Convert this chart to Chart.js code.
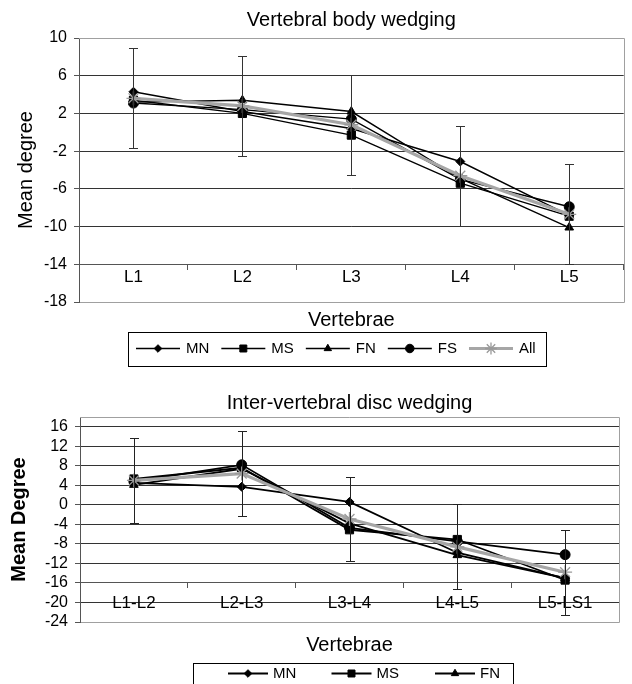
<!DOCTYPE html>
<html><head><meta charset="utf-8">
<script src="https://cdn.jsdelivr.net/npm/chart.js@4.4.1/dist/chart.umd.min.js"></script>
<style>
html,body{margin:0;padding:0;width:632px;height:684px;overflow:hidden;background:#fff;}
#w1{position:absolute;left:0;top:0;width:632px;height:384px;}
#w2{position:absolute;left:0;top:385px;width:632px;height:360px;}
</style></head><body>
<div id="w1"><canvas id="c1"></canvas></div>
<div id="w2"><canvas id="c2"></canvas></div>
<script>
// ---------- data: vertebral body wedging ----------
const bodyCategories = ['L1', 'L2', 'L3', 'L4', 'L5'];
const bodyMN  = [4.3, 2.2, 0.4, -3.1, -8.8];
const bodyMS  = [3.4, 2.0, -0.3, -5.4, -8.9];
const bodyFN  = [3.2, 3.4, 2.2, -4.9, -10.1];
const bodyFS  = [3.1, 2.4, 1.4, -5.0, -7.9];
const bodyAll = [3.6, 2.8, 0.8, -4.6, -8.7];
const bodyAllSD = [5.3, 5.3, 5.3, 5.3, 5.3];
const bodyYTicks = [10, 6, 2, -2, -6, -10, -14, -18];

// ---------- data: inter-vertebral disc wedging ----------
const discCategories = ['L1-L2', 'L2-L3', 'L3-L4', 'L4-L5', 'L5-LS1'];
const discMN  = [4.5, 3.7, 0.6, -9.8, -15.0];
const discMS  = [5.3, 7.6, -5.1, -7.1, -15.4];
const discFN  = [4.1, 7.4, -3.8, -10.3, -15.0];
const discFS  = [4.8, 8.2, -4.7, -7.5, -10.2];
const discAll = [5.0, 6.4, -2.9, -8.6, -13.8];
const discAllSD = [8.7, 8.7, 8.7, 8.7, 8.7];
const discYTicks = [16, 12, 8, 4, 0, -4, -8, -12, -16, -20, -24];

const seriesNames = ['MN', 'MS', 'FN', 'FS', 'All'];

const FAMILY = "'Liberation Sans', Arial, Helvetica, sans-serif";
Chart.defaults.font.family = FAMILY;
Chart.defaults.color = '#000';

const DARK = '#333';
const FRAME = '#a0a0a0';
const GRAYLINE = '#a6a6a6';

function makeDatasets(arrs, lw) {
  const styles = [
    {pointStyle: 'rectRot', pointRadius: 4.5},
    {pointStyle: 'rect', pointRadius: 5.8},
    {pointStyle: 'triangle', pointRadius: 5},
    {pointStyle: 'circle', pointRadius: 5},
  ];
  const out = [];
  for (let i = 0; i < 4; i++) {
    out.push(Object.assign({
      label: seriesNames[i], data: arrs[i],
      borderColor: '#000', backgroundColor: '#000',
      pointBackgroundColor: '#000', pointBorderColor: '#000', pointBorderWidth: 1,
      borderWidth: lw, tension: 0, order: 5 - i
    }, styles[i]));
  }
  out.push({
    label: seriesNames[4], data: arrs[4],
    borderColor: GRAYLINE, backgroundColor: GRAYLINE,
    pointBackgroundColor: GRAYLINE, pointBorderColor: '#999', pointBorderWidth: 1.3,
    pointStyle: 'star', pointRadius: 7, borderWidth: 3.2, tension: 0, order: 0
  });
  return out;
}

const framePlugin = {
  id: 'frame',
  beforeDatasetsDraw(chart) {
    const a = chart.chartArea, ctx = chart.ctx;
    ctx.save();
    ctx.strokeStyle = FRAME; ctx.lineWidth = 1;
    ctx.beginPath();
    ctx.moveTo(Math.round(a.left), Math.round(a.top) + 0.5);
    ctx.lineTo(Math.round(a.right) + 0.5, Math.round(a.top) + 0.5);
    ctx.lineTo(Math.round(a.right) + 0.5, Math.round(a.bottom) + 0.5);
    ctx.lineTo(Math.round(a.left) + 1, Math.round(a.bottom) + 0.5);
    ctx.stroke();
    ctx.restore();
  }
};

const errorBarPlugin = {
  id: 'errorBars',
  afterDatasetsDraw(chart, args, o) {
    const meta = chart.getDatasetMeta(o.datasetIndex);
    const ds = chart.data.datasets[o.datasetIndex];
    const ys = chart.scales.y, ctx = chart.ctx;
    ctx.save();
    ctx.strokeStyle = o.color; ctx.lineWidth = 1;
    meta.data.forEach((pt, i) => {
      const v = ds.data[i], e = o.errors[i];
      const x = Math.round(pt.x) + 0.5;
      const y1 = Math.round(ys.getPixelForValue(v + e)) + 0.5;
      const y2 = Math.round(ys.getPixelForValue(v - e)) + 0.5;
      ctx.beginPath();
      ctx.moveTo(x, y1); ctx.lineTo(x, y2);
      ctx.moveTo(x - o.cap, y1); ctx.lineTo(x + o.cap, y1);
      ctx.moveTo(x - o.cap, y2); ctx.lineTo(x + o.cap, y2);
      ctx.stroke();
    });
    ctx.restore();
  }
};

const boxLegendPlugin = {
  id: 'boxLegend',
  afterDraw(chart, args, o) {
    const ctx = chart.ctx;
    ctx.save();
    ctx.strokeStyle = '#000'; ctx.lineWidth = 1;
    ctx.strokeRect(o.left + 0.5, o.top + 0.5, o.width, o.height);
    ctx.font = o.fontSize + 'px ' + FAMILY;
    ctx.textBaseline = 'middle';
    ctx.textAlign = 'left';
    let x = o.startX;
    chart.data.datasets.forEach((ds, i) => {
      let ix, iy;
      if (o.cols) {
        ix = o.startX + (i % o.cols) * o.colWidth;
        iy = o.rowY + Math.floor(i / o.cols) * o.rowHeight;
      } else { ix = x; iy = o.rowY; }
      ctx.strokeStyle = ds.borderColor;
      ctx.lineWidth = ds.borderWidth;
      ctx.beginPath(); ctx.moveTo(ix, iy + 0.5); ctx.lineTo(ix + o.lineLen, iy + 0.5); ctx.stroke();
      ctx.fillStyle = ds.pointBackgroundColor;
      ctx.strokeStyle = ds.pointBorderColor;
      ctx.lineWidth = ds.pointBorderWidth;
      const r = ds.pointRadius * o.markerScale;
      if (Chart.helpers && Chart.helpers.drawPoint) {
        Chart.helpers.drawPoint(ctx, {pointStyle: ds.pointStyle, radius: r, borderWidth: ds.pointBorderWidth, rotation: 0}, ix + o.lineLen / 2, iy + 0.5);
      }
      ctx.fillStyle = '#000';
      ctx.fillText(ds.label, ix + o.lineLen + o.textGap, iy + 1);
      x = ix + o.lineLen + o.textGap + ctx.measureText(ds.label).width + o.itemGap;
    });
    ctx.restore();
  }
};

function gridColor(maxV, minV) {
  return (c) => (c.tick && (c.tick.value === maxV || c.tick.value === minV)) ? FRAME : DARK;
}

// ---------- chart 1 ----------
new Chart(document.getElementById('c1'), {
  type: 'line',
  data: {
    labels: bodyCategories,
    datasets: makeDatasets([bodyMN, bodyMS, bodyFN, bodyFS, bodyAll], 1.4)
  },
  plugins: [framePlugin, errorBarPlugin, boxLegendPlugin],
  options: {
    responsive: true, maintainAspectRatio: false, animation: false,
    layout: {padding: {left: 0, right: 5, top: 0, bottom: 52}},
    plugins: {
      legend: {display: false},
      tooltip: {enabled: false},
      title: {display: true, fullSize: false, text: 'Vertebral body wedging', color: '#000',
        font: {size: 20, weight: 'normal'}, padding: {top: 8, bottom: 6}},
      errorBars: {datasetIndex: 4, errors: bodyAllSD, color: '#333', cap: 4.5},
      boxLegend: {left: 128, top: 332, width: 418, height: 34, startX: 136, rowY: 348,
        lineLen: 44, textGap: 6, itemGap: 12, fontSize: 15, markerScale: 0.85}
    },
    scales: {
      x: {
        type: 'category', position: {y: -14}, offset: true,
        grid: {display: true, drawOnChartArea: false, drawTicks: true, tickLength: 5, offset: true, color: '#555'},
        border: {display: true, color: '#555', width: 1},
        ticks: {font: {size: 17}, color: '#000', padding: -2.5, maxRotation: 0, autoSkip: false}
      },
      xb: {
        type: 'category', position: 'bottom', offset: true, labels: bodyCategories,
        grid: {display: false, drawTicks: false, tickLength: 0}, border: {display: false},
        ticks: {display: false},
        title: {display: true, text: 'Vertebrae', color: '#000', font: {size: 20}, padding: {top: 6, bottom: 0}}
      },
      y: {
        min: -18, max: 10,
        afterBuildTicks: (s) => { s.ticks = bodyYTicks.map(v => ({value: v})); },
        afterFit: (s) => { s.width = 79; },
        grid: {color: gridColor(10, -18), tickColor: '#555', tickLength: 5, drawTicks: true},
        border: {display: true, color: '#555', width: 1},
        ticks: {font: {size: 16}, color: '#000', padding: 7, autoSkip: false},
        title: {display: true, text: 'Mean degree', color: '#000', font: {size: 20}, padding: {top: 14, bottom: 0}}
      }
    }
  }
});

// ---------- chart 2 ----------
new Chart(document.getElementById('c2'), {
  type: 'line',
  data: {
    labels: discCategories,
    datasets: makeDatasets([discMN, discMS, discFN, discFS, discAll], 1.8)
  },
  plugins: [framePlugin, errorBarPlugin, boxLegendPlugin],
  options: {
    responsive: true, maintainAspectRatio: false, animation: false,
    layout: {padding: {left: 0, right: 13, top: 0, bottom: 88}},
    plugins: {
      legend: {display: false},
      tooltip: {enabled: false},
      title: {display: true, fullSize: false, text: 'Inter-vertebral disc wedging', color: '#000',
        font: {size: 20, weight: 'normal'}, padding: {top: 6, bottom: 2}},
      errorBars: {datasetIndex: 4, errors: discAllSD, color: '#222', cap: 4.5},
      boxLegend: {left: 193, top: 278, width: 320, height: 60, startX: 228, rowY: 288, cols: 3,
        colWidth: 103.5, rowHeight: 24, lineLen: 40, textGap: 5, itemGap: 12, fontSize: 15, markerScale: 0.85}
    },
    scales: {
      x: {
        type: 'category', position: {y: -16}, offset: true,
        grid: {display: true, drawOnChartArea: false, drawTicks: true, tickLength: 5, offset: true, color: '#555'},
        border: {display: true, color: '#555', width: 1},
        ticks: {font: {size: 17}, color: '#000', padding: 5.5, maxRotation: 0, autoSkip: false}
      },
      xb: {
        type: 'category', position: 'bottom', offset: true, labels: discCategories,
        grid: {display: false, drawTicks: false, tickLength: 0}, border: {display: false},
        ticks: {display: false},
        title: {display: true, text: 'Vertebrae', color: '#000', font: {size: 20}, padding: {top: 11, bottom: 0}}
      },
      y: {
        min: -24, max: 18,
        afterBuildTicks: (s) => { s.ticks = discYTicks.map(v => ({value: v})); },
        afterFit: (s) => { s.width = 80; },
        grid: {color: gridColor(99, -24), tickColor: '#555', tickLength: 5, drawTicks: true},
        border: {display: true, color: '#555', width: 1},
        ticks: {font: {size: 16}, color: '#000', padding: 7, autoSkip: false},
        title: {display: true, text: 'Mean Degree', color: '#000', font: {size: 20, weight: 'bold'}, padding: {top: 7, bottom: 0}}
      }
    }
  }
});
</script>
</body></html>
